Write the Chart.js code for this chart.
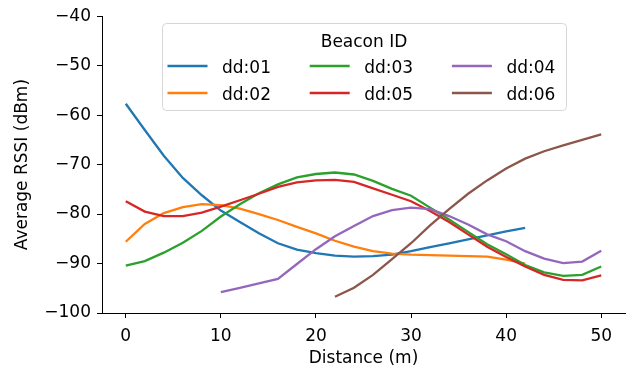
<!DOCTYPE html>
<html><head><meta charset="utf-8">
<script src="https://cdn.jsdelivr.net/npm/chart.js@4.4.0/dist/chart.umd.min.js"></script>
<style>html,body{margin:0;padding:0;background:#fff;}#wrap{width:631px;height:375px;}</style>
</head><body><div id="wrap"><canvas id="c" width="631" height="375"></canvas></div>
<script>
// ---- data ----
const distances = [0,2,4,6,8,10,12,14,16,18,20,22,24,26,28,30,32,34,36,38,40,42,44,46,48,50];
const seriesLabels = ['dd:01','dd:02','dd:03','dd:05','dd:04','dd:06'];
const seriesColors = ['#1f77b4','#ff7f0e','#2ca02c','#d62728','#9467bd','#8c564b'];
const rssi_dd01 = [-57.7,-63.0,-68.2,-72.7,-76.2,-79.3,-81.6,-83.9,-85.9,-87.2,-87.9,-88.4,-88.6,-88.5,-88.2,-87.5,-86.7,-85.9,-85.1,-84.3,-83.5,-82.8,null,null,null,null];
const rssi_dd02 = [-85.6,-82.0,-79.8,-78.6,-78.0,-78.2,-78.9,-80.0,-81.2,-82.6,-83.9,-85.4,-86.6,-87.5,-88.0,-88.2,-88.3,-88.4,-88.5,-88.6,-89.2,-90.0,null,null,null,null];
const rssi_dd03 = [-90.4,-89.5,-87.8,-85.8,-83.4,-80.5,-78.0,-75.8,-74.0,-72.6,-71.9,-71.6,-72.0,-73.3,-74.9,-76.3,-78.7,-81.1,-83.6,-86.1,-88.1,-90.3,-91.8,-92.5,-92.3,-90.6];
const rssi_dd05 = [-77.4,-79.5,-80.4,-80.4,-79.7,-78.5,-77.2,-75.9,-74.5,-73.6,-73.2,-73.1,-73.5,-74.8,-76.1,-77.4,-79.4,-81.6,-84.1,-86.6,-88.7,-90.6,-92.3,-93.3,-93.4,-92.4];
const rssi_dd04 = [null,null,null,null,null,-95.8,-94.9,-94.0,-93.1,-90.1,-87.1,-84.5,-82.4,-80.4,-79.2,-78.7,-79.0,-80.4,-82.1,-84.1,-85.5,-87.5,-89.0,-89.9,-89.6,-87.4];
const rssi_dd06 = [null,null,null,null,null,null,null,null,null,null,null,-96.7,-94.9,-92.3,-89.1,-85.9,-82.3,-79.0,-75.9,-73.2,-70.8,-68.8,-67.3,-66.1,-65.0,-63.9];
const seriesValues = [rssi_dd01, rssi_dd02, rssi_dd03, rssi_dd05, rssi_dd04, rssi_dd06];
const xTicks = [0,10,20,30,40,50];
const yTicks = [-100,-90,-80,-70,-60,-50,-40];
const xTitle = 'Distance (m)';
const yTitle = 'Average RSSI (dBm)';
const legendTitle = 'Beacon ID';

// ---- chart ----
const FONT = 'DejaVu Sans';
const FS = 17;
Chart.defaults.font.family = FONT;
Chart.defaults.font.size = FS;
Chart.defaults.color = '#000';

const datasets = seriesLabels.map((lab, i) => ({
  label: lab,
  data: distances.map((d, k) => ({x: d, y: seriesValues[i][k]})).filter(p => p.y !== null),
  borderColor: seriesColors[i],
  backgroundColor: seriesColors[i],
  borderWidth: 2.3,
  pointRadius: 0,
  tension: 0,
  fill: false,
  order: -i
}));

const legendPlugin = {
  id: 'mplLegend',
  afterDraw(chart) {
    const ctx = chart.ctx;
    const ds = chart.data.datasets;
    ctx.save();
    const bx = 162.5, by = 23.5, bw = 404, bh = 87;
    ctx.beginPath();
    ctx.roundRect(bx, by, bw, bh, 4);
    ctx.fillStyle = 'rgba(255,255,255,0.8)';
    ctx.fill();
    ctx.lineWidth = 1;
    ctx.strokeStyle = '#d6d6d6';
    ctx.stroke();
    ctx.font = FS + 'px "' + FONT + '"';
    ctx.fillStyle = '#000';
    ctx.textAlign = 'center';
    ctx.textBaseline = 'alphabetic';
    ctx.fillText(legendTitle, 364, 46.5);
    ctx.textAlign = 'left';
    ds.forEach((d, i) => {
      const col = Math.floor(i / 2), row = i % 2;
      const hx = 167.5 + col * 142.2;
      const ly = 66 + row * 27;
      ctx.beginPath();
      ctx.moveTo(hx, ly);
      ctx.lineTo(hx + 40, ly);
      ctx.strokeStyle = d.borderColor;
      ctx.lineWidth = 2.3;
      ctx.stroke();
      ctx.fillStyle = '#000';
      ctx.fillText(d.label, hx + 54.5, ly + 7.2);
    });
    ctx.restore();
  }
};

new Chart(document.getElementById('c'), {
  type: 'line',
  data: {datasets},
  options: {
    responsive: false,
    animation: false,
    devicePixelRatio: 1,
    layout: {padding: {left: 0, right: 6, top: 15, bottom: 0}},
    plugins: {legend: {display: false}, tooltip: {enabled: false}},
    scales: {
      x: {
        type: 'linear', min: -2.5, max: 52.5,
        afterBuildTicks: s => { s.ticks = xTicks.map(v => ({value: v})); },
        afterFit: s => { s.height = 62; },
        ticks: {color: '#000', padding: 8, maxRotation: 0, autoSkip: false, callback: v => String(v)},
        grid: {drawOnChartArea: false, drawTicks: true, tickLength: 5, tickWidth: 1, tickColor: '#000'},
        border: {display: true, color: '#000', width: 1},
        title: {display: true, text: xTitle, color: '#000', padding: {top: 0, bottom: 6}}
      },
      y: {
        type: 'linear', min: -100, max: -40,
        afterBuildTicks: s => { s.ticks = yTicks.map(v => ({value: v})); },
        afterFit: s => { s.width = 102; },
        ticks: {color: '#000', padding: 6, autoSkip: false, callback: v => String(v).replace('-', '\u2212')},
        grid: {drawOnChartArea: false, drawTicks: true, tickLength: 5, tickWidth: 1, tickColor: '#000'},
        border: {display: true, color: '#000', width: 1},
        title: {display: true, text: yTitle, color: '#000', padding: {top: 12, bottom: 0}}
      }
    }
  },
  plugins: [legendPlugin]
});
</script>
</body></html>
